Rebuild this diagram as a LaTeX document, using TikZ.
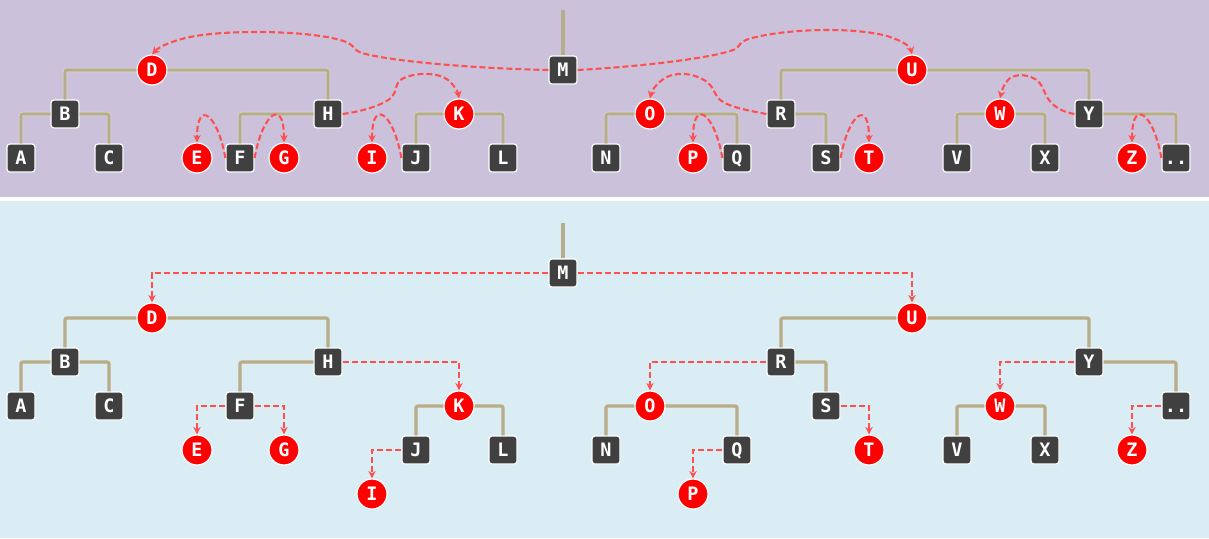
\documentclass[tikz,border=0pt]{standalone}
\usepackage{fontspec}
\setmonofont{DejaVu Sans Mono}
\usetikzlibrary{arrows.meta}

\definecolor{paneltop}{HTML}{CBC1DB}
\definecolor{panelbot}{HTML}{DBEDF4}
\definecolor{branchcol}{HTML}{B5AD8C}
\definecolor{keycol}{HTML}{404040}
\definecolor{redkey}{HTML}{FF0000}
\definecolor{threadcol}{HTML}{FF5050}

\tikzset{
	keynode/.style={draw=white, line width=1.2pt, fill=keycol, rounded corners=3pt,
		minimum size=28pt, inner sep=0pt, text=white, text height=13pt, text depth=0pt,
		font=\fontsize{18.5}{18.5}\selectfont\ttfamily\bfseries},
	rednode/.style={keynode, circle, fill=redkey, minimum size=30pt},
	branch/.style={draw=white!70!branchcol, line width=0.5pt, double=branchcol,
		double distance=3.2pt, rounded corners=2pt},
	thread/.style={draw=threadcol, line width=2.1pt, dash pattern=on 6pt off 3pt,
		-{Stealth[length=7.5pt,width=7.5pt]}},
}

\begin{document}
\begin{tikzpicture}[x=1pt, y=1pt]
		\useasboundingbox (0,0) rectangle (1209,-538);
		\fill[white] (0,0) rectangle (1209,-538);
		\fill[paneltop] (0,0) rectangle (1209,-197);
		\fill[panelbot] (0,-201) rectangle (1209,-538);
		
		% Top panel keys
		\foreach \n/\lbl/\x/\y in {M/M/563/70, B/B/65/114, H/H/328/114, R/R/781/114, Y/Y/1089/114,
			A/A/21/158, C/C/109/158, F/F/240/158, J/J/416/158, L/L/503/158, N/N/606/158,
			Q/Q/737/158, S/S/826/158, V/V/957/158, X/X/1045/158, dots/../1176/158}
			\node[keynode] (t\n) at (\x,-\y) {\lbl};
		\foreach \n/\x/\y in {D/152/70, U/912/70, K/459/114, O/650/114, W/1000/114,
			E/197/158, G/284/158, I/372/158, P/693/158, T/869/158, Z/1132/158}
			\node[rednode] (t\n) at (\x,-\y) {\n};
		
		% Bottom panel keys
		\foreach \n/\lbl/\x/\y in {M/M/563/273, B/B/65/362, H/H/328/362, R/R/781/362, Y/Y/1089/362,
			A/A/21/406, C/C/109/406, F/F/240/406, J/J/416/450, L/L/503/450, N/N/606/450,
			Q/Q/737/450, S/S/826/406, V/V/957/450, X/X/1045/450, dots/../1176/406}
			\node[keynode] (b\n) at (\x,-\y) {\lbl};
		\foreach \n/\x/\y in {D/152/318, U/912/318, K/459/406, O/650/406, W/1000/406,
			E/197/450, G/284/450, I/372/494, P/693/494, T/869/450, Z/1132/450}
			\node[rednode] (b\n) at (\x,-\y) {\n};
		
		% Tree branches
		\coordinate (tstem) at (563,-10);
		\coordinate (bstem) at (563,-223);
		\draw[branch] (tstem) -- (tM);
		\draw[branch] (bstem) -- (bM);
		\foreach \p/\c in {D/B, D/H, B/A, B/C, H/F, K/J, K/L, U/R, U/Y, O/N, O/Q, R/S, W/V, W/X, Y/dots} {
			\draw[branch] (t\p) -| (t\c);
			\draw[branch] (b\p) -| (b\c);
		}
		
		% Threads top
		\draw[thread] (tM.west) .. controls (460,-68) and (385,-60) .. (362,-53)
			.. controls (352,-50) and (356,-44) .. (340,-40)
			.. controls (310,-31) and (230,-29) .. (190,-37)
			.. controls (172,-41) and (160,-46) .. (tD.north);
		\draw[thread] (tM.east) .. controls (650,-66) and (715,-57) .. (733,-50)
			.. controls (742,-47) and (736,-42) .. (752,-38)
			.. controls (790,-28) and (860,-27) .. (890,-37)
			.. controls (902,-41) and (910,-46) .. (tU.north);
		\draw[thread] (tH.east) .. controls (365,-111) and (385,-104) .. (392,-97)
			.. controls (397,-92) and (394,-84) .. (402,-79)
			.. controls (415,-72) and (438,-72) .. (448,-80)
			.. controls (454,-85) and (458,-92) .. (tK.north);
		\draw[thread] (tR.west) .. controls (745,-110) and (725,-106) .. (718,-98)
			.. controls (713,-92) and (714,-84) .. (700,-78)
			.. controls (690,-73) and (675,-72) .. (665,-78)
			.. controls (657,-83) and (652,-90) .. (tO.north);
		\draw[thread] (tY.west) .. controls (1062,-112) and (1052,-106) .. (1047,-97)
			.. controls (1043,-90) and (1042,-82) .. (1033,-78)
			.. controls (1025,-74) and (1013,-74) .. (1008,-80)
			.. controls (1004,-84) and (1002,-90) .. (tW.north);
		\foreach \s/\e in {F/E, J/I, Q/P, dots/Z}
			\draw[thread] (t\s.west) to[out=100, in=90, looseness=3.5] (t\e.north);
		\foreach \s/\e in {F/G, S/T}
			\draw[thread] (t\s.east) to[out=80, in=90, looseness=3.5] (t\e.north);
		
		% Threads bottom
		\foreach \s/\e in {M/D, M/U, H/K, F/E, F/G, J/I, R/O, Q/P, S/T, Y/W, dots/Z}
			\draw[thread] (b\s) -| (b\e);
	\end{tikzpicture}
\end{document}
